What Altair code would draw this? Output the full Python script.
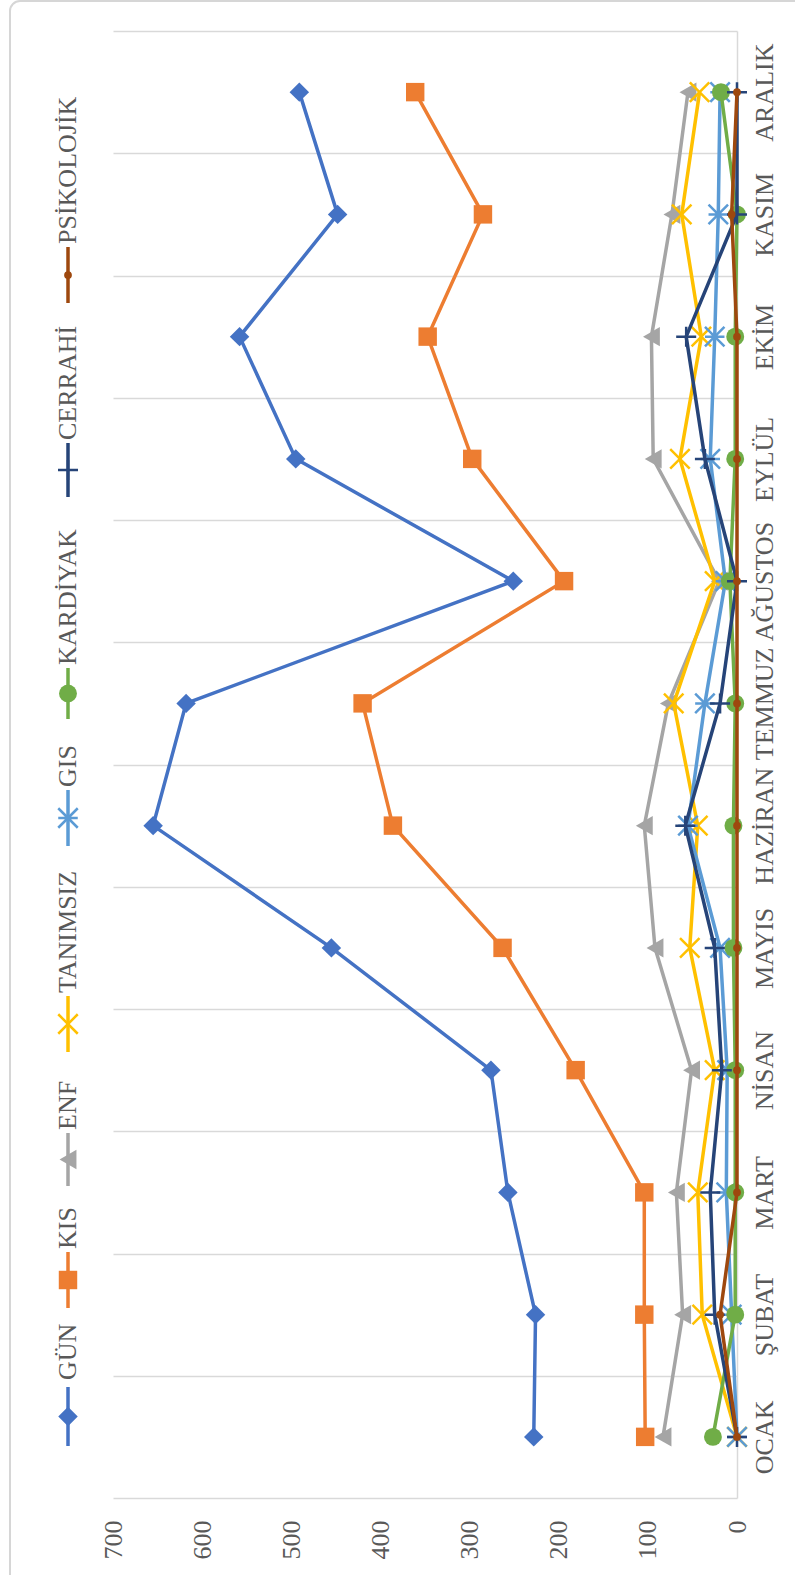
import altair as alt
import pandas as pd

# ---------------- data ----------------
months = ["OCAK", "ŞUBAT", "MART", "NİSAN", "MAYIS", "HAZİRAN",
          "TEMMUZ", "AĞUSTOS", "EYLÜL", "EKİM", "KASIM", "ARALIK"]
series = ["GÜN", "KIS", "ENF", "TANIMSIZ", "GIS", "KARDİYAK", "CERRAHİ", "PSİKOLOJİK"]

gun = [228, 226, 257, 276, 455, 655, 618, 251, 495, 558, 448, 491]
kis = [103, 104, 104, 181, 263, 386, 420, 194, 297, 347, 285, 361]
enf = [83, 61, 68, 51, 92, 104, 77, 20, 94, 96, 73, 55]
tanimsiz = [0, 39, 44, 25, 53, 44, 71, 25, 64, 40, 62, 42]
gis = [0, 6, 12, 11, 19, 55, 36, 13, 30, 25, 21, 19]
kardiyak = [27, 2, 2, 2, 4, 4, 2, 8, 2, 2, 0, 18]
cerrahi = [0, 25, 30, 17, 25, 58, 19, 0, 36, 57, 0, 0]
psikolojik = [0, 19, 0, 0, 0, 0, 0, 0, 0, 0, 6, 0]

values = [gun, kis, enf, tanimsiz, gis, kardiyak, cerrahi, psikolojik]
value_ticks = [0, 100, 200, 300, 400, 500, 600, 700]

# ---------------- styles ----------------
colors = ["#4472C4", "#ED7D31", "#A5A5A5", "#FFC000",
          "#5B9BD5", "#70AD47", "#264478", "#9E480E"]
shapes = ["diamond", "square", "triangle-left",
          "M-1,-1L1,1M-1,1L1,-1",
          "M-1,-1L1,1M-1,1L1,-1M-1,0L1,0",
          "circle",
          "M-1,0L1,0M0,-1L0,1",
          "circle"]
filled = [True, True, True, False, False, True, False, True]
sizes = [380, 340, 380, 380, 380, 320, 400, 60]

FONT = "Liberation Serif"
TXT = "#595959"
GRID = "#d9d9d9"

PAD_L, PAD_T = 113, 31
W, H = 624, 1467
PAD_R = 795 - PAD_L - W
PAD_B = 1575 - PAD_T - H

# legend layout (canvas y of symbol top/bottom, text start)
legend_layout = [
    (1387, 1446, 1380),
    (1252, 1308, 1249),
    (1133, 1186, 1130),
    (996, 1052, 993),
    (790, 846, 787),
    (668, 719, 665),
    (443, 497, 440),
    (247, 303, 244),
]
LEG_X = 68 - PAD_L

rows = []
for s, vals in zip(series, values):
    for i, (m, v) in enumerate(zip(months, vals)):
        rows.append({"series": s, "month": m, "mi": i, "v": v})
df = pd.DataFrame(rows)

x_enc = alt.X(
    "v:Q",
    scale=alt.Scale(domain=[0, 700], reverse=True, nice=False, zero=True),
    axis=alt.Axis(values=value_ticks, labelAngle=270, grid=False, ticks=False,
                  domain=False, labelAlign="right", labelBaseline="middle",
                  labelPadding=22, labelFont=FONT, labelFontSize=26,
                  labelColor=TXT, title=None),
)
y_enc = alt.Y(
    "month:N",
    bandPosition=0.5,
    scale=alt.Scale(type="band", domain=months[::-1], paddingInner=0, paddingOuter=0),
    axis=alt.Axis(orient="right", tickBand="extent", grid=True, gridColor=GRID,
                  gridWidth=1.5, ticks=False, domain=True, domainColor=GRID,
                  domainWidth=1.5, labelAngle=270, labelAlign="center",
                  labelBaseline="top", labelPadding=14, labelFont=FONT,
                  labelFontSize=26, labelColor=TXT, title=None),
)

one = pd.DataFrame({"a": [0]})

layers = []

# border frame
layers.append(
    alt.Chart(one).mark_rect(fillOpacity=0, stroke="#d6d6d6", strokeWidth=2,
                             cornerRadius=10)
    .encode(x=alt.value(10 - PAD_L), x2=alt.value(900),
            y=alt.value(1 - PAD_T), y2=alt.value(1700))
)

for k, s in enumerate(series):
    sub = alt.Chart(df).transform_filter(alt.datum.series == s)
    line = sub.mark_line(color=colors[k], strokeWidth=3.5).encode(
        x=x_enc, y=y_enc, order=alt.Order("mi:Q"))
    if filled[k]:
        pt = sub.mark_point(shape=shapes[k], filled=True, fill=colors[k],
                            size=sizes[k], opacity=1)
    else:
        pt = sub.mark_point(shape=shapes[k], filled=False, stroke=colors[k],
                            strokeWidth=2.5, size=sizes[k], opacity=1)
    layers.append(line)
    layers.append(pt.encode(x=x_enc, y=y_enc))

# legend
for k, s in enumerate(series):
    top, bot, tstart = legend_layout[k]
    mid = (top + bot) / 2
    layers.append(
        alt.Chart(one).mark_rule(color=colors[k], strokeWidth=3.5)
        .encode(x=alt.value(LEG_X), y=alt.value(top - PAD_T), y2=alt.value(bot - PAD_T))
    )
    if filled[k]:
        lp = alt.Chart(one).mark_point(shape=shapes[k], filled=True, fill=colors[k],
                                       size=sizes[k], opacity=1)
    else:
        lp = alt.Chart(one).mark_point(shape=shapes[k], filled=False, stroke=colors[k],
                                       strokeWidth=2.5, size=sizes[k], opacity=1)
    layers.append(lp.encode(x=alt.value(LEG_X), y=alt.value(mid - PAD_T)))
    layers.append(
        alt.Chart(one).mark_text(angle=270, align="left", baseline="middle",
                                 font=FONT, fontSize=26, color=TXT)
        .encode(x=alt.value(LEG_X), y=alt.value(tstart - PAD_T), text=alt.value(s))
    )

chart = (
    alt.layer(*layers)
    .properties(width=W, height=H,
                autosize=alt.AutoSizeParams(type="none"),
                padding={"left": PAD_L, "top": PAD_T, "right": PAD_R, "bottom": PAD_B},
                background="white")
    .configure_view(stroke=None)
)

chart.save("out.html", embed_options={"renderer": "svg", "actions": False})
